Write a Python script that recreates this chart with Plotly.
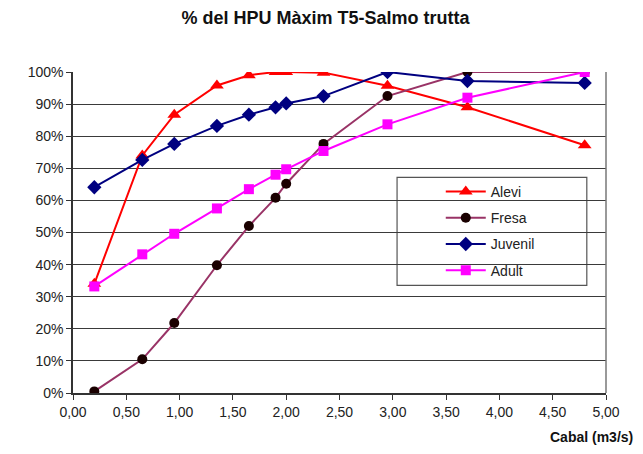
import plotly.graph_objects as go

caudal = [0.2, 0.65, 0.95, 1.35, 1.65, 1.9, 2.0, 2.35, 2.95, 3.7, 4.8]
alevi = [0.34, 0.74, 0.867, 0.958, 0.99, 1.0, 1.0, 0.998, 0.957, 0.89, 0.772]
fresa = [0.005, 0.105, 0.218, 0.398, 0.52, 0.608, 0.652, 0.776, 0.925, 1.0, 1.0]
juvenil = [0.641, 0.726, 0.776, 0.832, 0.867, 0.89, 0.902, 0.925, 1.0, 0.972, 0.966]
adult = [0.332, 0.432, 0.496, 0.575, 0.635, 0.68, 0.697, 0.754, 0.837, 0.92, 1.0]

series = [
    ("Alevi", alevi, "#FF0000", "#FF0000", "triangle-up", 12),
    ("Fresa", fresa, "#993366", "#1a0000", "circle", 10),
    ("Juvenil", juvenil, "#000080", "#000080", "diamond", 11),
    ("Adult", adult, "#FF00FF", "#FF00FF", "square", 10),
]

fig = go.Figure()
for name, vals, lc, mc, sym, sz in series:
    fig.add_trace(go.Scatter(
        x=caudal, y=vals, name=name, mode="lines+markers",
        line=dict(color=lc, width=2),
        marker=dict(color=mc, symbol=sym, size=sz, line=dict(width=0)),
        legendgroup=name,
    ))

font = "Liberation Sans, Arial, sans-serif"
fig.update_layout(
    width=635, height=446,
    margin=dict(l=65, r=37, t=64, b=61),
    paper_bgcolor="white", plot_bgcolor="white",
    separators=",.",
    font=dict(family=font, size=14, color="#222222"),
    title=dict(text="<b>% del HPU Màxim T5-Salmo trutta</b>", x=0.5, xanchor="center",
               y=0.978, yanchor="middle", font=dict(size=18, color="#111111")),
    xaxis=dict(range=[0, 5], dtick=0.5, tickformat=".2f", showgrid=False,
               showline=True, linecolor="#333333", linewidth=1.5,
               ticks="outside", ticklen=5, tickcolor="#333333", zeroline=False),
    yaxis=dict(range=[0, 1.0], dtick=0.1, tickformat=".0%", showgrid=True,
               gridcolor="#3a3a3a", gridwidth=1.2,
               showline=True, linecolor="#333333", linewidth=1.5,
               ticks="outside", ticklen=5, tickcolor="#333333", zeroline=False),
    legend=dict(x=0.69, y=0.676, xanchor="left", yanchor="top",
                bgcolor="rgba(0,0,0,0)", borderwidth=0,
                font=dict(size=14, color="#222222"),
                tracegroupgap=5, traceorder="grouped", itemwidth=40),
    showlegend=True,
    shapes=[
        dict(type="rect", xref="paper", yref="paper", x0=0.608, x1=0.964, y0=0.335, y1=0.672,
             line=dict(color="#555555", width=1.2), fillcolor="white", layer="below"),
        dict(type="line", xref="paper", yref="paper", x0=1, x1=1, y0=0, y1=1,
             line=dict(color="#777777", width=1.5)),
    ],
    annotations=[
        dict(text="<b>Cabal (m3/s)</b>", xref="paper", yref="paper", x=1.054, y=-0.137,
             xanchor="right", yanchor="middle", showarrow=False,
             font=dict(size=14, color="#111111")),
    ],
)

fig.write_html("out.html")
